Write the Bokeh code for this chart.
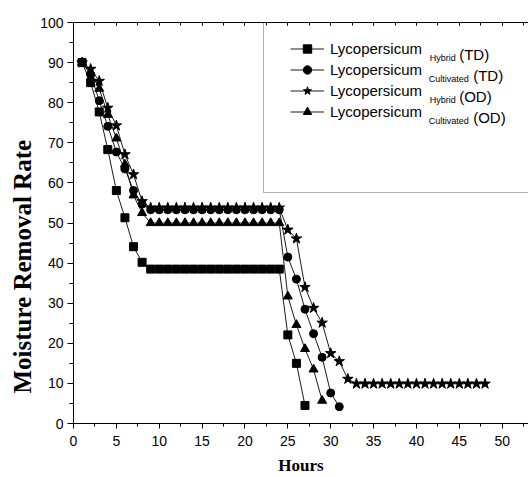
import math
from bokeh.plotting import figure
from bokeh.models import (Range1d, SingleIntervalTicker, LinearAxis, Legend, LegendItem,
                          Label, BoxAnnotation, CustomJSTickFormatter)
from bokeh.embed import file_html
from bokeh.resources import INLINE

# ---------------- data ----------------
hours_hybrid_td = [1, 2, 3, 4, 5, 6, 7, 8, 9, 10, 11, 12, 13, 14, 15, 16, 17, 18, 19, 20,
                   21, 22, 23, 24, 25, 26, 27]
hybrid_td = [90.0, 85.0, 77.7, 68.3, 58.1, 51.3, 44.1, 40.2, 38.5, 38.5, 38.5, 38.5, 38.5,
             38.5, 38.5, 38.5, 38.5, 38.5, 38.5, 38.5, 38.5, 38.5, 38.5, 38.5, 22.1, 15.0, 4.5]

hours_cultivated_td = [1, 2, 3, 4, 5, 6, 7, 8, 9, 10, 11, 12, 13, 14, 15, 16, 17, 18, 19, 20,
                       21, 22, 23, 24, 25, 26, 27, 28, 29, 30, 31]
cultivated_td = [90.0, 87.0, 80.5, 74.1, 67.7, 63.5, 58.1, 54.7, 53.3, 53.3, 53.3, 53.3, 53.3,
                 53.3, 53.3, 53.3, 53.3, 53.3, 53.3, 53.3, 53.3, 53.3, 53.3, 53.3, 41.5, 36.0,
                 28.5, 22.4, 16.5, 7.6, 4.2]

hours_hybrid_od = [1, 2, 3, 4, 5, 6, 7, 8, 9, 10, 11, 12, 13, 14, 15, 16, 17, 18, 19, 20,
                   21, 22, 23, 24, 25, 26, 27, 28, 29, 30, 31, 32, 33, 34, 35, 36, 37, 38,
                   39, 40, 41, 42, 43, 44, 45, 46, 47, 48]
hybrid_od = [90.0, 88.4, 85.4, 78.7, 74.3, 67.1, 62.1, 55.4, 53.8, 53.8, 53.8, 53.8, 53.8,
             53.8, 53.8, 53.8, 53.8, 53.8, 53.8, 53.8, 53.8, 53.8, 53.8, 53.8, 48.3, 46.1,
             34.0, 28.8, 25.1, 17.5, 15.5, 11.1, 9.9, 9.9, 9.9, 9.9, 9.9, 9.9, 9.9, 9.9,
             9.9, 9.9, 9.9, 9.9, 9.9, 9.9, 9.9, 9.9]

hours_cultivated_od = [1, 2, 3, 4, 5, 6, 7, 8, 9, 10, 11, 12, 13, 14, 15, 16, 17, 18, 19, 20,
                       21, 22, 23, 24, 25, 26, 27, 28, 29]
cultivated_od = [90.0, 87.7, 83.5, 77.0, 71.1, 64.6, 56.9, 52.5, 50.0, 50.0, 50.0, 50.0, 50.0,
                 50.0, 50.0, 50.0, 50.0, 50.0, 50.0, 50.0, 50.0, 50.0, 50.0, 50.0, 31.7, 24.6,
                 18.6, 13.5, 5.7]

legend_names = ["Lycopersicum", "Lycopersicum", "Lycopersicum", "Lycopersicum"]
legend_subs = ["Hybrid", "Cultivated", "Hybrid", "Cultivated"]
legend_suffix = ["(TD)", "(TD)", "(OD)", "(OD)"]

x_title = "Hours"
y_title = "Moisture Removal Rate"

# ---------------- figure ----------------
FW, FH = 528, 477
BL, BT, BB, BR = 73, 22, 54, 0
frame_h = FH - BT - BB

p = figure(width=FW, height=FH, output_backend="svg", toolbar_location=None,
           x_range=Range1d(0, 53.07), y_range=Range1d(0, 100),
           min_border_left=BL, min_border_top=BT, min_border_bottom=BB, min_border_right=BR,
           x_axis_location=None, y_axis_location=None)
p.xgrid.visible = False
p.ygrid.visible = False
p.outline_line_color = None
p.background_fill_color = "white"
p.border_fill_color = "white"

xt = SingleIntervalTicker(interval=5, num_minor_ticks=2)
yt = SingleIntervalTicker(interval=10, num_minor_ticks=2)

def style(ax):
    ax.axis_line_color = "black"
    ax.axis_line_width = 1
    ax.major_tick_line_color = "black"
    ax.minor_tick_line_color = "black"
    ax.major_label_text_font = "Liberation Sans"
    ax.major_label_text_font_size = "14px"
    ax.major_label_text_color = "black"
    ax.axis_label_text_font = "Liberation Serif"
    ax.axis_label_text_font_style = "bold"
    ax.axis_label_text_color = "black"

bottom = LinearAxis(ticker=xt, axis_label=x_title)
style(bottom)
bottom.major_tick_out = 5
bottom.major_tick_in = 0
bottom.minor_tick_out = 3
bottom.minor_tick_in = 0
bottom.major_label_standoff = 7
bottom.axis_label_text_font_size = "17px"
bottom.axis_label_standoff = 7
p.add_layout(bottom, "below")

# pad the end of the rotated title with no-break spaces so that it sits lower, as drawn
left = LinearAxis(ticker=yt, axis_label=y_title + "\u00a0" * 14)
style(left)
left.major_tick_out = 6
left.major_tick_in = 0
left.minor_tick_out = 4
left.minor_tick_in = 0
left.major_label_standoff = 4
left.axis_label_text_font_size = "25px"
left.axis_label_standoff = 1
p.add_layout(left, "left")

top = LinearAxis(ticker=SingleIntervalTicker(interval=5, num_minor_ticks=2),
                 formatter=CustomJSTickFormatter(code="return ''"))
style(top)
top.major_tick_out = 0
top.major_tick_in = 3
top.minor_tick_out = 0
top.minor_tick_in = 3
top.major_label_standoff = 0
p.add_layout(top, "above")

LW = 0.9
series = [
    (hours_hybrid_td, hybrid_td, "square", 8),
    (hours_cultivated_td, cultivated_td, "circle", 8),
    (hours_hybrid_od, hybrid_od, "star", 11),
    (hours_cultivated_od, cultivated_od, "triangle", 9),
]
items = []
for (hx, hy, mk, sz), name in zip(series, legend_names):
    lr = p.line(hx, hy, line_color="black", line_width=LW)
    sr = p.scatter(hx, hy, marker=mk, size=sz, fill_color="black", line_color="black")
    items.append(LegendItem(label=name, renderers=[lr, sr]))

# legend frame (screen units, relative to the plot frame's bottom-left)
frame_left_page = BL
frame_bottom_page = BT + frame_h
box = BoxAnnotation(left=263 - frame_left_page, bottom=frame_bottom_page - 192,
                    right=700, left_units="screen", bottom_units="screen", right_units="screen",
                    fill_alpha=0, line_color="black", line_width=1)
p.add_layout(box)

row_centers = [48.3, 69.3, 90.3, 111.3]
row_h = 21
legend_top_page = row_centers[0] - row_h / 2
legend_bottom_page = legend_top_page + row_h * 4
legend = Legend(items=items,
                location=(290 - frame_left_page, frame_bottom_page - legend_bottom_page),
                glyph_width=34, glyph_height=row_h, label_height=row_h, label_standoff=6,
                spacing=0, padding=0, margin=0, border_line_color=None,
                background_fill_alpha=0, label_text_font="Liberation Sans",
                label_text_font_size="15px", label_text_color="black")
p.add_layout(legend)

sub_x = [429.3, 428.3, 429.3, 428.3]
suf_x = [458.7, 472.7, 458.7, 472.7]
for i, c in enumerate(row_centers):
    p.add_layout(Label(x=sub_x[i] - frame_left_page, y=frame_bottom_page - (c + 9.5),
                       x_units="screen", y_units="screen", text=legend_subs[i],
                       text_font="Liberation Sans", text_font_size="9px",
                       text_color="black", text_baseline="alphabetic", text_align="left"))
    p.add_layout(Label(x=suf_x[i] - frame_left_page, y=frame_bottom_page - (c + 5.3),
                       x_units="screen", y_units="screen", text=legend_suffix[i],
                       text_font="Liberation Sans", text_font_size="15px",
                       text_color="black", text_baseline="alphabetic", text_align="left"))

open("out.html", "w").write(file_html(p, INLINE))
